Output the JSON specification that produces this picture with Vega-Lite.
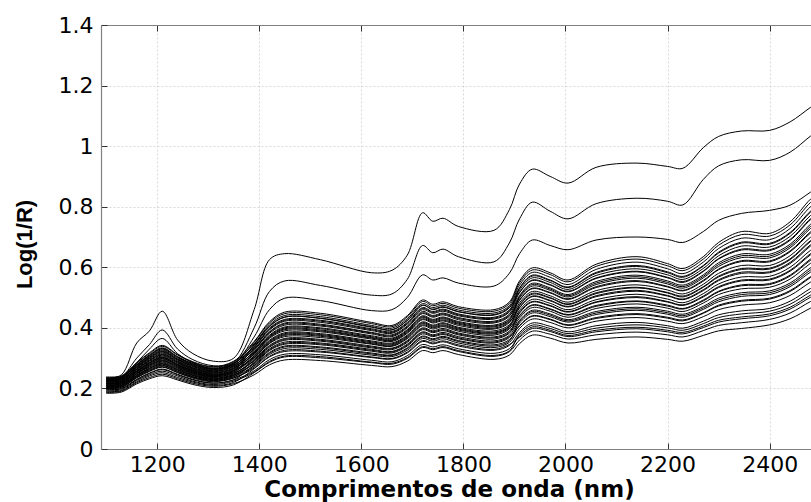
{
"$schema":"https://vega.github.io/schema/vega-lite/v6.json",
"width":710,"height":424,
"autosize":{"type":"none"},
"padding":{"left":101,"top":25,"right":0,"bottom":53},
"background":"white",
"config":{"view":{"stroke":null},"axis":{"domainColor":"#808080","domainWidth":1.2,"tickColor":"#333333","tickSize":-6,"tickWidth":1,"gridColor":"#cfcfcf","gridDash":[2,2],"gridWidth":0.8,"labelFont":"DejaVu Sans","labelFontSize":22,"labelColor":"#000000","titleColor":"#000000","labelOverlap":false,"labelFlush":false}},
"data":{"values":[
{"s":1,"w":1100,"v":0.232},{"s":1,"w":1130,"v":0.245},{"s":1,"w":1160,"v":0.35},{"s":1,"w":1185,"v":0.39},{"s":1,"w":1210,"v":0.455},{"s":1,"w":1240,"v":0.36},{"s":1,"w":1270,"v":0.315},{"s":1,"w":1310,"v":0.29},{"s":1,"w":1350,"v":0.30},{"s":1,"w":1390,"v":0.46},{"s":1,"w":1420,"v":0.625},{"s":1,"w":1450,"v":0.645},{"s":1,"w":1520,"v":0.625},{"s":1,"w":1620,"v":0.582},{"s":1,"w":1660,"v":0.59},{"s":1,"w":1690,"v":0.64},{"s":1,"w":1720,"v":0.78},{"s":1,"w":1740,"v":0.752},{"s":1,"w":1760,"v":0.762},{"s":1,"w":1790,"v":0.735},{"s":1,"w":1860,"v":0.722},{"s":1,"w":1890,"v":0.79},{"s":1,"w":1910,"v":0.875},{"s":1,"w":1935,"v":0.924},{"s":1,"w":1970,"v":0.9},{"s":1,"w":2005,"v":0.878},{"s":1,"w":2060,"v":0.93},{"s":1,"w":2140,"v":0.944},{"s":1,"w":2200,"v":0.933},{"s":1,"w":2230,"v":0.927},{"s":1,"w":2270,"v":0.995},{"s":1,"w":2300,"v":1.032},{"s":1,"w":2345,"v":1.05},{"s":1,"w":2400,"v":1.052},{"s":1,"w":2440,"v":1.08},{"s":1,"w":2480,"v":1.128},{"s":1,"w":2500,"v":1.15},
{"s":2,"w":1100,"v":0.228},{"s":2,"w":1130,"v":0.238},{"s":2,"w":1160,"v":0.30},{"s":2,"w":1185,"v":0.345},{"s":2,"w":1210,"v":0.393},{"s":2,"w":1240,"v":0.33},{"s":2,"w":1270,"v":0.295},{"s":2,"w":1310,"v":0.275},{"s":2,"w":1350,"v":0.285},{"s":2,"w":1390,"v":0.40},{"s":2,"w":1420,"v":0.52},{"s":2,"w":1450,"v":0.555},{"s":2,"w":1520,"v":0.54},{"s":2,"w":1620,"v":0.508},{"s":2,"w":1660,"v":0.512},{"s":2,"w":1690,"v":0.56},{"s":2,"w":1720,"v":0.672},{"s":2,"w":1740,"v":0.648},{"s":2,"w":1760,"v":0.66},{"s":2,"w":1790,"v":0.635},{"s":2,"w":1860,"v":0.618},{"s":2,"w":1890,"v":0.68},{"s":2,"w":1910,"v":0.76},{"s":2,"w":1935,"v":0.815},{"s":2,"w":1970,"v":0.785},{"s":2,"w":2005,"v":0.76},{"s":2,"w":2060,"v":0.81},{"s":2,"w":2140,"v":0.828},{"s":2,"w":2200,"v":0.818},{"s":2,"w":2230,"v":0.806},{"s":2,"w":2270,"v":0.89},{"s":2,"w":2300,"v":0.935},{"s":2,"w":2345,"v":0.955},{"s":2,"w":2400,"v":0.953},{"s":2,"w":2440,"v":0.98},{"s":2,"w":2480,"v":1.033},{"s":2,"w":2500,"v":1.055},
{"s":3,"w":1100,"v":0.225},{"s":3,"w":1130,"v":0.235},{"s":3,"w":1160,"v":0.285},{"s":3,"w":1185,"v":0.33},{"s":3,"w":1210,"v":0.365},{"s":3,"w":1240,"v":0.315},{"s":3,"w":1270,"v":0.285},{"s":3,"w":1310,"v":0.265},{"s":3,"w":1350,"v":0.28},{"s":3,"w":1390,"v":0.37},{"s":3,"w":1420,"v":0.46},{"s":3,"w":1450,"v":0.498},{"s":3,"w":1520,"v":0.49},{"s":3,"w":1620,"v":0.457},{"s":3,"w":1660,"v":0.46},{"s":3,"w":1690,"v":0.50},{"s":3,"w":1720,"v":0.575},{"s":3,"w":1740,"v":0.558},{"s":3,"w":1760,"v":0.565},{"s":3,"w":1790,"v":0.548},{"s":3,"w":1860,"v":0.538},{"s":3,"w":1890,"v":0.58},{"s":3,"w":1910,"v":0.645},{"s":3,"w":1935,"v":0.69},{"s":3,"w":1970,"v":0.672},{"s":3,"w":2005,"v":0.658},{"s":3,"w":2060,"v":0.69},{"s":3,"w":2140,"v":0.70},{"s":3,"w":2200,"v":0.692},{"s":3,"w":2230,"v":0.682},{"s":3,"w":2270,"v":0.718},{"s":3,"w":2300,"v":0.755},{"s":3,"w":2345,"v":0.778},{"s":3,"w":2400,"v":0.788},{"s":3,"w":2440,"v":0.805},{"s":3,"w":2480,"v":0.848},{"s":3,"w":2500,"v":0.87},
{"s":4,"w":1100,"v":0.187},{"s":4,"w":1130,"v":0.191},{"s":4,"w":1160,"v":0.219},{"s":4,"w":1185,"v":0.236},{"s":4,"w":1210,"v":0.247},{"s":4,"w":1240,"v":0.232},{"s":4,"w":1270,"v":0.217},{"s":4,"w":1310,"v":0.207},{"s":4,"w":1350,"v":0.216},{"s":4,"w":1390,"v":0.245},{"s":4,"w":1420,"v":0.278},{"s":4,"w":1450,"v":0.294},{"s":4,"w":1520,"v":0.292},{"s":4,"w":1620,"v":0.276},{"s":4,"w":1660,"v":0.272},{"s":4,"w":1690,"v":0.290},{"s":4,"w":1720,"v":0.325},{"s":4,"w":1740,"v":0.318},{"s":4,"w":1760,"v":0.325},{"s":4,"w":1790,"v":0.312},{"s":4,"w":1860,"v":0.296},{"s":4,"w":1890,"v":0.310},{"s":4,"w":1910,"v":0.348},{"s":4,"w":1935,"v":0.376},{"s":4,"w":1970,"v":0.366},{"s":4,"w":2005,"v":0.350},{"s":4,"w":2060,"v":0.362},{"s":4,"w":2140,"v":0.370},{"s":4,"w":2200,"v":0.362},{"s":4,"w":2230,"v":0.356},{"s":4,"w":2270,"v":0.375},{"s":4,"w":2300,"v":0.390},{"s":4,"w":2345,"v":0.398},{"s":4,"w":2400,"v":0.410},{"s":4,"w":2440,"v":0.430},{"s":4,"w":2480,"v":0.465},{"s":4,"w":2500,"v":0.480},
{"s":5,"w":1100,"v":0.184},{"s":5,"w":1130,"v":0.188},{"s":5,"w":1160,"v":0.215},{"s":5,"w":1185,"v":0.232},{"s":5,"w":1210,"v":0.242},{"s":5,"w":1240,"v":0.228},{"s":5,"w":1270,"v":0.213},{"s":5,"w":1310,"v":0.203},{"s":5,"w":1350,"v":0.212},{"s":5,"w":1390,"v":0.252},{"s":5,"w":1420,"v":0.286},{"s":5,"w":1450,"v":0.304},{"s":5,"w":1520,"v":0.301},{"s":5,"w":1620,"v":0.285},{"s":5,"w":1660,"v":0.280},{"s":5,"w":1690,"v":0.299},{"s":5,"w":1720,"v":0.335},{"s":5,"w":1740,"v":0.328},{"s":5,"w":1760,"v":0.335},{"s":5,"w":1790,"v":0.322},{"s":5,"w":1860,"v":0.306},{"s":5,"w":1890,"v":0.321},{"s":5,"w":1910,"v":0.360},{"s":5,"w":1935,"v":0.389},{"s":5,"w":1970,"v":0.379},{"s":5,"w":2005,"v":0.363},{"s":5,"w":2060,"v":0.377},{"s":5,"w":2140,"v":0.386},{"s":5,"w":2200,"v":0.377},{"s":5,"w":2230,"v":0.370},{"s":5,"w":2270,"v":0.391},{"s":5,"w":2300,"v":0.408},{"s":5,"w":2345,"v":0.417},{"s":5,"w":2400,"v":0.428},{"s":5,"w":2440,"v":0.449},{"s":5,"w":2480,"v":0.487},{"s":5,"w":2500,"v":0.502},
{"s":6,"w":1100,"v":0.195},{"s":6,"w":1130,"v":0.199},{"s":6,"w":1160,"v":0.229},{"s":6,"w":1185,"v":0.249},{"s":6,"w":1210,"v":0.262},{"s":6,"w":1240,"v":0.245},{"s":6,"w":1270,"v":0.228},{"s":6,"w":1310,"v":0.217},{"s":6,"w":1350,"v":0.228},{"s":6,"w":1390,"v":0.258},{"s":6,"w":1420,"v":0.295},{"s":6,"w":1450,"v":0.313},{"s":6,"w":1520,"v":0.311},{"s":6,"w":1620,"v":0.293},{"s":6,"w":1660,"v":0.288},{"s":6,"w":1690,"v":0.308},{"s":6,"w":1720,"v":0.345},{"s":6,"w":1740,"v":0.337},{"s":6,"w":1760,"v":0.344},{"s":6,"w":1790,"v":0.331},{"s":6,"w":1860,"v":0.316},{"s":6,"w":1890,"v":0.331},{"s":6,"w":1910,"v":0.373},{"s":6,"w":1935,"v":0.403},{"s":6,"w":1970,"v":0.392},{"s":6,"w":2005,"v":0.375},{"s":6,"w":2060,"v":0.392},{"s":6,"w":2140,"v":0.402},{"s":6,"w":2200,"v":0.392},{"s":6,"w":2230,"v":0.385},{"s":6,"w":2270,"v":0.406},{"s":6,"w":2300,"v":0.425},{"s":6,"w":2345,"v":0.436},{"s":6,"w":2400,"v":0.446},{"s":6,"w":2440,"v":0.468},{"s":6,"w":2480,"v":0.508},{"s":6,"w":2500,"v":0.524},
{"s":7,"w":1100,"v":0.189},{"s":7,"w":1130,"v":0.193},{"s":7,"w":1160,"v":0.222},{"s":7,"w":1185,"v":0.241},{"s":7,"w":1210,"v":0.252},{"s":7,"w":1240,"v":0.236},{"s":7,"w":1270,"v":0.221},{"s":7,"w":1310,"v":0.210},{"s":7,"w":1350,"v":0.220},{"s":7,"w":1390,"v":0.265},{"s":7,"w":1420,"v":0.304},{"s":7,"w":1450,"v":0.322},{"s":7,"w":1520,"v":0.320},{"s":7,"w":1620,"v":0.302},{"s":7,"w":1660,"v":0.297},{"s":7,"w":1690,"v":0.317},{"s":7,"w":1720,"v":0.355},{"s":7,"w":1740,"v":0.347},{"s":7,"w":1760,"v":0.354},{"s":7,"w":1790,"v":0.340},{"s":7,"w":1860,"v":0.326},{"s":7,"w":1890,"v":0.342},{"s":7,"w":1910,"v":0.385},{"s":7,"w":1935,"v":0.416},{"s":7,"w":1970,"v":0.405},{"s":7,"w":2005,"v":0.387},{"s":7,"w":2060,"v":0.407},{"s":7,"w":2140,"v":0.418},{"s":7,"w":2200,"v":0.407},{"s":7,"w":2230,"v":0.399},{"s":7,"w":2270,"v":0.422},{"s":7,"w":2300,"v":0.443},{"s":7,"w":2345,"v":0.456},{"s":7,"w":2400,"v":0.464},{"s":7,"w":2440,"v":0.488},{"s":7,"w":2480,"v":0.530},{"s":7,"w":2500,"v":0.547},
{"s":8,"w":1100,"v":0.200},{"s":8,"w":1130,"v":0.204},{"s":8,"w":1160,"v":0.236},{"s":8,"w":1185,"v":0.258},{"s":8,"w":1210,"v":0.272},{"s":8,"w":1240,"v":0.253},{"s":8,"w":1270,"v":0.236},{"s":8,"w":1310,"v":0.224},{"s":8,"w":1350,"v":0.235},{"s":8,"w":1390,"v":0.271},{"s":8,"w":1420,"v":0.312},{"s":8,"w":1450,"v":0.332},{"s":8,"w":1520,"v":0.329},{"s":8,"w":1620,"v":0.310},{"s":8,"w":1660,"v":0.305},{"s":8,"w":1690,"v":0.326},{"s":8,"w":1720,"v":0.365},{"s":8,"w":1740,"v":0.356},{"s":8,"w":1760,"v":0.364},{"s":8,"w":1790,"v":0.350},{"s":8,"w":1860,"v":0.335},{"s":8,"w":1890,"v":0.352},{"s":8,"w":1910,"v":0.398},{"s":8,"w":1935,"v":0.429},{"s":8,"w":1970,"v":0.418},{"s":8,"w":2005,"v":0.400},{"s":8,"w":2060,"v":0.422},{"s":8,"w":2140,"v":0.434},{"s":8,"w":2200,"v":0.422},{"s":8,"w":2230,"v":0.414},{"s":8,"w":2270,"v":0.437},{"s":8,"w":2300,"v":0.460},{"s":8,"w":2345,"v":0.475},{"s":8,"w":2400,"v":0.483},{"s":8,"w":2440,"v":0.507},{"s":8,"w":2480,"v":0.551},{"s":8,"w":2500,"v":0.569},
{"s":9,"w":1100,"v":0.196},{"s":9,"w":1130,"v":0.200},{"s":9,"w":1160,"v":0.230},{"s":9,"w":1185,"v":0.251},{"s":9,"w":1210,"v":0.264},{"s":9,"w":1240,"v":0.247},{"s":9,"w":1270,"v":0.230},{"s":9,"w":1310,"v":0.218},{"s":9,"w":1350,"v":0.229},{"s":9,"w":1390,"v":0.277},{"s":9,"w":1420,"v":0.319},{"s":9,"w":1450,"v":0.340},{"s":9,"w":1520,"v":0.337},{"s":9,"w":1620,"v":0.317},{"s":9,"w":1660,"v":0.311},{"s":9,"w":1690,"v":0.334},{"s":9,"w":1720,"v":0.373},{"s":9,"w":1740,"v":0.364},{"s":9,"w":1760,"v":0.372},{"s":9,"w":1790,"v":0.358},{"s":9,"w":1860,"v":0.344},{"s":9,"w":1890,"v":0.361},{"s":9,"w":1910,"v":0.408},{"s":9,"w":1935,"v":0.440},{"s":9,"w":1970,"v":0.429},{"s":9,"w":2005,"v":0.410},{"s":9,"w":2060,"v":0.434},{"s":9,"w":2140,"v":0.447},{"s":9,"w":2200,"v":0.435},{"s":9,"w":2230,"v":0.426},{"s":9,"w":2270,"v":0.450},{"s":9,"w":2300,"v":0.475},{"s":9,"w":2345,"v":0.491},{"s":9,"w":2400,"v":0.498},{"s":9,"w":2440,"v":0.523},{"s":9,"w":2480,"v":0.569},{"s":9,"w":2500,"v":0.587},
{"s":10,"w":1100,"v":0.206},{"s":10,"w":1130,"v":0.210},{"s":10,"w":1160,"v":0.243},{"s":10,"w":1185,"v":0.266},{"s":10,"w":1210,"v":0.282},{"s":10,"w":1240,"v":0.262},{"s":10,"w":1270,"v":0.243},{"s":10,"w":1310,"v":0.231},{"s":10,"w":1350,"v":0.243},{"s":10,"w":1390,"v":0.281},{"s":10,"w":1420,"v":0.325},{"s":10,"w":1450,"v":0.346},{"s":10,"w":1520,"v":0.344},{"s":10,"w":1620,"v":0.323},{"s":10,"w":1660,"v":0.317},{"s":10,"w":1690,"v":0.340},{"s":10,"w":1720,"v":0.380},{"s":10,"w":1740,"v":0.371},{"s":10,"w":1760,"v":0.378},{"s":10,"w":1790,"v":0.364},{"s":10,"w":1860,"v":0.350},{"s":10,"w":1890,"v":0.368},{"s":10,"w":1910,"v":0.416},{"s":10,"w":1935,"v":0.449},{"s":10,"w":1970,"v":0.437},{"s":10,"w":2005,"v":0.419},{"s":10,"w":2060,"v":0.444},{"s":10,"w":2140,"v":0.458},{"s":10,"w":2200,"v":0.445},{"s":10,"w":2230,"v":0.435},{"s":10,"w":2270,"v":0.461},{"s":10,"w":2300,"v":0.486},{"s":10,"w":2345,"v":0.504},{"s":10,"w":2400,"v":0.510},{"s":10,"w":2440,"v":0.536},{"s":10,"w":2480,"v":0.584},{"s":10,"w":2500,"v":0.602},
{"s":11,"w":1100,"v":0.202},{"s":11,"w":1130,"v":0.206},{"s":11,"w":1160,"v":0.238},{"s":11,"w":1185,"v":0.260},{"s":11,"w":1210,"v":0.275},{"s":11,"w":1240,"v":0.256},{"s":11,"w":1270,"v":0.238},{"s":11,"w":1310,"v":0.226},{"s":11,"w":1350,"v":0.238},{"s":11,"w":1390,"v":0.286},{"s":11,"w":1420,"v":0.331},{"s":11,"w":1450,"v":0.353},{"s":11,"w":1520,"v":0.350},{"s":11,"w":1620,"v":0.329},{"s":11,"w":1660,"v":0.322},{"s":11,"w":1690,"v":0.346},{"s":11,"w":1720,"v":0.387},{"s":11,"w":1740,"v":0.377},{"s":11,"w":1760,"v":0.385},{"s":11,"w":1790,"v":0.371},{"s":11,"w":1860,"v":0.357},{"s":11,"w":1890,"v":0.375},{"s":11,"w":1910,"v":0.425},{"s":11,"w":1935,"v":0.458},{"s":11,"w":1970,"v":0.446},{"s":11,"w":2005,"v":0.427},{"s":11,"w":2060,"v":0.454},{"s":11,"w":2140,"v":0.468},{"s":11,"w":2200,"v":0.455},{"s":11,"w":2230,"v":0.445},{"s":11,"w":2270,"v":0.471},{"s":11,"w":2300,"v":0.498},{"s":11,"w":2345,"v":0.516},{"s":11,"w":2400,"v":0.522},{"s":11,"w":2440,"v":0.548},{"s":11,"w":2480,"v":0.598},{"s":11,"w":2500,"v":0.617},
{"s":12,"w":1100,"v":0.211},{"s":12,"w":1130,"v":0.215},{"s":12,"w":1160,"v":0.250},{"s":12,"w":1185,"v":0.275},{"s":12,"w":1210,"v":0.292},{"s":12,"w":1240,"v":0.270},{"s":12,"w":1270,"v":0.251},{"s":12,"w":1310,"v":0.238},{"s":12,"w":1350,"v":0.251},{"s":12,"w":1390,"v":0.290},{"s":12,"w":1420,"v":0.336},{"s":12,"w":1450,"v":0.359},{"s":12,"w":1520,"v":0.356},{"s":12,"w":1620,"v":0.334},{"s":12,"w":1660,"v":0.328},{"s":12,"w":1690,"v":0.352},{"s":12,"w":1720,"v":0.394},{"s":12,"w":1740,"v":0.384},{"s":12,"w":1760,"v":0.391},{"s":12,"w":1790,"v":0.377},{"s":12,"w":1860,"v":0.363},{"s":12,"w":1890,"v":0.382},{"s":12,"w":1910,"v":0.433},{"s":12,"w":1935,"v":0.467},{"s":12,"w":1970,"v":0.455},{"s":12,"w":2005,"v":0.435},{"s":12,"w":2060,"v":0.464},{"s":12,"w":2140,"v":0.479},{"s":12,"w":2200,"v":0.465},{"s":12,"w":2230,"v":0.454},{"s":12,"w":2270,"v":0.482},{"s":12,"w":2300,"v":0.510},{"s":12,"w":2345,"v":0.529},{"s":12,"w":2400,"v":0.534},{"s":12,"w":2440,"v":0.561},{"s":12,"w":2480,"v":0.613},{"s":12,"w":2500,"v":0.632},
{"s":13,"w":1100,"v":0.205},{"s":13,"w":1130,"v":0.209},{"s":13,"w":1160,"v":0.242},{"s":13,"w":1185,"v":0.265},{"s":13,"w":1210,"v":0.280},{"s":13,"w":1240,"v":0.260},{"s":13,"w":1270,"v":0.242},{"s":13,"w":1310,"v":0.229},{"s":13,"w":1350,"v":0.242},{"s":13,"w":1390,"v":0.295},{"s":13,"w":1420,"v":0.342},{"s":13,"w":1450,"v":0.365},{"s":13,"w":1520,"v":0.362},{"s":13,"w":1620,"v":0.340},{"s":13,"w":1660,"v":0.333},{"s":13,"w":1690,"v":0.358},{"s":13,"w":1720,"v":0.400},{"s":13,"w":1740,"v":0.390},{"s":13,"w":1760,"v":0.398},{"s":13,"w":1790,"v":0.383},{"s":13,"w":1860,"v":0.370},{"s":13,"w":1890,"v":0.389},{"s":13,"w":1910,"v":0.441},{"s":13,"w":1935,"v":0.476},{"s":13,"w":1970,"v":0.463},{"s":13,"w":2005,"v":0.444},{"s":13,"w":2060,"v":0.474},{"s":13,"w":2140,"v":0.489},{"s":13,"w":2200,"v":0.475},{"s":13,"w":2230,"v":0.464},{"s":13,"w":2270,"v":0.492},{"s":13,"w":2300,"v":0.521},{"s":13,"w":2345,"v":0.542},{"s":13,"w":2400,"v":0.546},{"s":13,"w":2440,"v":0.574},{"s":13,"w":2480,"v":0.627},{"s":13,"w":2500,"v":0.647},
{"s":14,"w":1100,"v":0.208},{"s":14,"w":1130,"v":0.212},{"s":14,"w":1160,"v":0.247},{"s":14,"w":1185,"v":0.271},{"s":14,"w":1210,"v":0.287},{"s":14,"w":1240,"v":0.266},{"s":14,"w":1270,"v":0.247},{"s":14,"w":1310,"v":0.234},{"s":14,"w":1350,"v":0.247},{"s":14,"w":1390,"v":0.299},{"s":14,"w":1420,"v":0.348},{"s":14,"w":1450,"v":0.371},{"s":14,"w":1520,"v":0.368},{"s":14,"w":1620,"v":0.346},{"s":14,"w":1660,"v":0.339},{"s":14,"w":1690,"v":0.364},{"s":14,"w":1720,"v":0.407},{"s":14,"w":1740,"v":0.396},{"s":14,"w":1760,"v":0.404},{"s":14,"w":1790,"v":0.389},{"s":14,"w":1860,"v":0.376},{"s":14,"w":1890,"v":0.396},{"s":14,"w":1910,"v":0.449},{"s":14,"w":1935,"v":0.485},{"s":14,"w":1970,"v":0.472},{"s":14,"w":2005,"v":0.452},{"s":14,"w":2060,"v":0.484},{"s":14,"w":2140,"v":0.500},{"s":14,"w":2200,"v":0.485},{"s":14,"w":2230,"v":0.474},{"s":14,"w":2270,"v":0.502},{"s":14,"w":2300,"v":0.533},{"s":14,"w":2345,"v":0.555},{"s":14,"w":2400,"v":0.558},{"s":14,"w":2440,"v":0.587},{"s":14,"w":2480,"v":0.641},{"s":14,"w":2500,"v":0.661},
{"s":15,"w":1100,"v":0.216},{"s":15,"w":1130,"v":0.220},{"s":15,"w":1160,"v":0.257},{"s":15,"w":1185,"v":0.284},{"s":15,"w":1210,"v":0.302},{"s":15,"w":1240,"v":0.278},{"s":15,"w":1270,"v":0.258},{"s":15,"w":1310,"v":0.244},{"s":15,"w":1350,"v":0.259},{"s":15,"w":1390,"v":0.303},{"s":15,"w":1420,"v":0.353},{"s":15,"w":1450,"v":0.378},{"s":15,"w":1520,"v":0.375},{"s":15,"w":1620,"v":0.351},{"s":15,"w":1660,"v":0.344},{"s":15,"w":1690,"v":0.370},{"s":15,"w":1720,"v":0.414},{"s":15,"w":1740,"v":0.403},{"s":15,"w":1760,"v":0.410},{"s":15,"w":1790,"v":0.396},{"s":15,"w":1860,"v":0.383},{"s":15,"w":1890,"v":0.403},{"s":15,"w":1910,"v":0.458},{"s":15,"w":1935,"v":0.494},{"s":15,"w":1970,"v":0.481},{"s":15,"w":2005,"v":0.460},{"s":15,"w":2060,"v":0.493},{"s":15,"w":2140,"v":0.511},{"s":15,"w":2200,"v":0.495},{"s":15,"w":2230,"v":0.483},{"s":15,"w":2270,"v":0.513},{"s":15,"w":2300,"v":0.545},{"s":15,"w":2345,"v":0.568},{"s":15,"w":2400,"v":0.570},{"s":15,"w":2440,"v":0.600},{"s":15,"w":2480,"v":0.656},{"s":15,"w":2500,"v":0.676},
{"s":16,"w":1100,"v":0.212},{"s":16,"w":1130,"v":0.216},{"s":16,"w":1160,"v":0.251},{"s":16,"w":1185,"v":0.277},{"s":16,"w":1210,"v":0.294},{"s":16,"w":1240,"v":0.272},{"s":16,"w":1270,"v":0.252},{"s":16,"w":1310,"v":0.239},{"s":16,"w":1350,"v":0.253},{"s":16,"w":1390,"v":0.308},{"s":16,"w":1420,"v":0.359},{"s":16,"w":1450,"v":0.384},{"s":16,"w":1520,"v":0.381},{"s":16,"w":1620,"v":0.357},{"s":16,"w":1660,"v":0.350},{"s":16,"w":1690,"v":0.376},{"s":16,"w":1720,"v":0.420},{"s":16,"w":1740,"v":0.409},{"s":16,"w":1760,"v":0.417},{"s":16,"w":1790,"v":0.402},{"s":16,"w":1860,"v":0.390},{"s":16,"w":1890,"v":0.410},{"s":16,"w":1910,"v":0.466},{"s":16,"w":1935,"v":0.503},{"s":16,"w":1970,"v":0.489},{"s":16,"w":2005,"v":0.469},{"s":16,"w":2060,"v":0.503},{"s":16,"w":2140,"v":0.521},{"s":16,"w":2200,"v":0.505},{"s":16,"w":2230,"v":0.493},{"s":16,"w":2270,"v":0.523},{"s":16,"w":2300,"v":0.556},{"s":16,"w":2345,"v":0.580},{"s":16,"w":2400,"v":0.582},{"s":16,"w":2440,"v":0.612},{"s":16,"w":2480,"v":0.670},{"s":16,"w":2500,"v":0.691},
{"s":17,"w":1100,"v":0.221},{"s":17,"w":1130,"v":0.225},{"s":17,"w":1160,"v":0.263},{"s":17,"w":1185,"v":0.291},{"s":17,"w":1210,"v":0.310},{"s":17,"w":1240,"v":0.285},{"s":17,"w":1270,"v":0.264},{"s":17,"w":1310,"v":0.250},{"s":17,"w":1350,"v":0.265},{"s":17,"w":1390,"v":0.312},{"s":17,"w":1420,"v":0.365},{"s":17,"w":1450,"v":0.390},{"s":17,"w":1520,"v":0.387},{"s":17,"w":1620,"v":0.363},{"s":17,"w":1660,"v":0.355},{"s":17,"w":1690,"v":0.382},{"s":17,"w":1720,"v":0.427},{"s":17,"w":1740,"v":0.416},{"s":17,"w":1760,"v":0.423},{"s":17,"w":1790,"v":0.408},{"s":17,"w":1860,"v":0.396},{"s":17,"w":1890,"v":0.417},{"s":17,"w":1910,"v":0.474},{"s":17,"w":1935,"v":0.511},{"s":17,"w":1970,"v":0.498},{"s":17,"w":2005,"v":0.477},{"s":17,"w":2060,"v":0.513},{"s":17,"w":2140,"v":0.532},{"s":17,"w":2200,"v":0.515},{"s":17,"w":2230,"v":0.502},{"s":17,"w":2270,"v":0.534},{"s":17,"w":2300,"v":0.568},{"s":17,"w":2345,"v":0.593},{"s":17,"w":2400,"v":0.594},{"s":17,"w":2440,"v":0.625},{"s":17,"w":2480,"v":0.685},{"s":17,"w":2500,"v":0.706},
{"s":18,"w":1100,"v":0.215},{"s":18,"w":1130,"v":0.219},{"s":18,"w":1160,"v":0.255},{"s":18,"w":1185,"v":0.281},{"s":18,"w":1210,"v":0.299},{"s":18,"w":1240,"v":0.276},{"s":18,"w":1270,"v":0.256},{"s":18,"w":1310,"v":0.242},{"s":18,"w":1350,"v":0.257},{"s":18,"w":1390,"v":0.317},{"s":18,"w":1420,"v":0.370},{"s":18,"w":1450,"v":0.397},{"s":18,"w":1520,"v":0.393},{"s":18,"w":1620,"v":0.368},{"s":18,"w":1660,"v":0.360},{"s":18,"w":1690,"v":0.388},{"s":18,"w":1720,"v":0.434},{"s":18,"w":1740,"v":0.422},{"s":18,"w":1760,"v":0.430},{"s":18,"w":1790,"v":0.415},{"s":18,"w":1860,"v":0.403},{"s":18,"w":1890,"v":0.424},{"s":18,"w":1910,"v":0.483},{"s":18,"w":1935,"v":0.520},{"s":18,"w":1970,"v":0.506},{"s":18,"w":2005,"v":0.485},{"s":18,"w":2060,"v":0.523},{"s":18,"w":2140,"v":0.542},{"s":18,"w":2200,"v":0.525},{"s":18,"w":2230,"v":0.512},{"s":18,"w":2270,"v":0.544},{"s":18,"w":2300,"v":0.580},{"s":18,"w":2345,"v":0.606},{"s":18,"w":2400,"v":0.606},{"s":18,"w":2440,"v":0.638},{"s":18,"w":2480,"v":0.699},{"s":18,"w":2500,"v":0.721},
{"s":19,"w":1100,"v":0.225},{"s":19,"w":1130,"v":0.229},{"s":19,"w":1160,"v":0.268},{"s":19,"w":1185,"v":0.297},{"s":19,"w":1210,"v":0.317},{"s":19,"w":1240,"v":0.291},{"s":19,"w":1270,"v":0.269},{"s":19,"w":1310,"v":0.255},{"s":19,"w":1350,"v":0.271},{"s":19,"w":1390,"v":0.321},{"s":19,"w":1420,"v":0.376},{"s":19,"w":1450,"v":0.403},{"s":19,"w":1520,"v":0.400},{"s":19,"w":1620,"v":0.374},{"s":19,"w":1660,"v":0.366},{"s":19,"w":1690,"v":0.394},{"s":19,"w":1720,"v":0.440},{"s":19,"w":1740,"v":0.428},{"s":19,"w":1760,"v":0.436},{"s":19,"w":1790,"v":0.421},{"s":19,"w":1860,"v":0.409},{"s":19,"w":1890,"v":0.431},{"s":19,"w":1910,"v":0.491},{"s":19,"w":1935,"v":0.529},{"s":19,"w":1970,"v":0.515},{"s":19,"w":2005,"v":0.494},{"s":19,"w":2060,"v":0.533},{"s":19,"w":2140,"v":0.553},{"s":19,"w":2200,"v":0.535},{"s":19,"w":2230,"v":0.522},{"s":19,"w":2270,"v":0.554},{"s":19,"w":2300,"v":0.592},{"s":19,"w":2345,"v":0.619},{"s":19,"w":2400,"v":0.618},{"s":19,"w":2440,"v":0.651},{"s":19,"w":2480,"v":0.713},{"s":19,"w":2500,"v":0.735},
{"s":20,"w":1100,"v":0.219},{"s":20,"w":1130,"v":0.223},{"s":20,"w":1160,"v":0.261},{"s":20,"w":1185,"v":0.288},{"s":20,"w":1210,"v":0.307},{"s":20,"w":1240,"v":0.283},{"s":20,"w":1270,"v":0.262},{"s":20,"w":1310,"v":0.248},{"s":20,"w":1350,"v":0.263},{"s":20,"w":1390,"v":0.325},{"s":20,"w":1420,"v":0.382},{"s":20,"w":1450,"v":0.409},{"s":20,"w":1520,"v":0.406},{"s":20,"w":1620,"v":0.380},{"s":20,"w":1660,"v":0.371},{"s":20,"w":1690,"v":0.400},{"s":20,"w":1720,"v":0.447},{"s":20,"w":1740,"v":0.435},{"s":20,"w":1760,"v":0.443},{"s":20,"w":1790,"v":0.427},{"s":20,"w":1860,"v":0.416},{"s":20,"w":1890,"v":0.438},{"s":20,"w":1910,"v":0.499},{"s":20,"w":1935,"v":0.538},{"s":20,"w":1970,"v":0.524},{"s":20,"w":2005,"v":0.502},{"s":20,"w":2060,"v":0.543},{"s":20,"w":2140,"v":0.564},{"s":20,"w":2200,"v":0.545},{"s":20,"w":2230,"v":0.531},{"s":20,"w":2270,"v":0.565},{"s":20,"w":2300,"v":0.603},{"s":20,"w":2345,"v":0.632},{"s":20,"w":2400,"v":0.631},{"s":20,"w":2440,"v":0.664},{"s":20,"w":2480,"v":0.728},{"s":20,"w":2500,"v":0.750},
{"s":21,"w":1100,"v":0.228},{"s":21,"w":1130,"v":0.232},{"s":21,"w":1160,"v":0.272},{"s":21,"w":1185,"v":0.303},{"s":21,"w":1210,"v":0.324},{"s":21,"w":1240,"v":0.297},{"s":21,"w":1270,"v":0.275},{"s":21,"w":1310,"v":0.260},{"s":21,"w":1350,"v":0.276},{"s":21,"w":1390,"v":0.330},{"s":21,"w":1420,"v":0.387},{"s":21,"w":1450,"v":0.416},{"s":21,"w":1520,"v":0.412},{"s":21,"w":1620,"v":0.385},{"s":21,"w":1660,"v":0.377},{"s":21,"w":1690,"v":0.406},{"s":21,"w":1720,"v":0.454},{"s":21,"w":1740,"v":0.441},{"s":21,"w":1760,"v":0.449},{"s":21,"w":1790,"v":0.434},{"s":21,"w":1860,"v":0.422},{"s":21,"w":1890,"v":0.445},{"s":21,"w":1910,"v":0.507},{"s":21,"w":1935,"v":0.547},{"s":21,"w":1970,"v":0.532},{"s":21,"w":2005,"v":0.510},{"s":21,"w":2060,"v":0.553},{"s":21,"w":2140,"v":0.574},{"s":21,"w":2200,"v":0.555},{"s":21,"w":2230,"v":0.541},{"s":21,"w":2270,"v":0.575},{"s":21,"w":2300,"v":0.615},{"s":21,"w":2345,"v":0.644},{"s":21,"w":2400,"v":0.643},{"s":21,"w":2440,"v":0.676},{"s":21,"w":2480,"v":0.742},{"s":21,"w":2500,"v":0.765},
{"s":22,"w":1100,"v":0.223},{"s":22,"w":1130,"v":0.227},{"s":22,"w":1160,"v":0.265},{"s":22,"w":1185,"v":0.294},{"s":22,"w":1210,"v":0.314},{"s":22,"w":1240,"v":0.289},{"s":22,"w":1270,"v":0.267},{"s":22,"w":1310,"v":0.253},{"s":22,"w":1350,"v":0.268},{"s":22,"w":1390,"v":0.334},{"s":22,"w":1420,"v":0.393},{"s":22,"w":1450,"v":0.422},{"s":22,"w":1520,"v":0.418},{"s":22,"w":1620,"v":0.391},{"s":22,"w":1660,"v":0.382},{"s":22,"w":1690,"v":0.412},{"s":22,"w":1720,"v":0.460},{"s":22,"w":1740,"v":0.448},{"s":22,"w":1760,"v":0.455},{"s":22,"w":1790,"v":0.440},{"s":22,"w":1860,"v":0.429},{"s":22,"w":1890,"v":0.452},{"s":22,"w":1910,"v":0.516},{"s":22,"w":1935,"v":0.556},{"s":22,"w":1970,"v":0.541},{"s":22,"w":2005,"v":0.519},{"s":22,"w":2060,"v":0.563},{"s":22,"w":2140,"v":0.585},{"s":22,"w":2200,"v":0.565},{"s":22,"w":2230,"v":0.550},{"s":22,"w":2270,"v":0.586},{"s":22,"w":2300,"v":0.627},{"s":22,"w":2345,"v":0.657},{"s":22,"w":2400,"v":0.655},{"s":22,"w":2440,"v":0.689},{"s":22,"w":2480,"v":0.757},{"s":22,"w":2500,"v":0.780},
{"s":23,"w":1100,"v":0.233},{"s":23,"w":1130,"v":0.237},{"s":23,"w":1160,"v":0.278},{"s":23,"w":1185,"v":0.309},{"s":23,"w":1210,"v":0.332},{"s":23,"w":1240,"v":0.304},{"s":23,"w":1270,"v":0.281},{"s":23,"w":1310,"v":0.265},{"s":23,"w":1350,"v":0.282},{"s":23,"w":1390,"v":0.339},{"s":23,"w":1420,"v":0.399},{"s":23,"w":1450,"v":0.428},{"s":23,"w":1520,"v":0.425},{"s":23,"w":1620,"v":0.397},{"s":23,"w":1660,"v":0.388},{"s":23,"w":1690,"v":0.418},{"s":23,"w":1720,"v":0.467},{"s":23,"w":1740,"v":0.454},{"s":23,"w":1760,"v":0.462},{"s":23,"w":1790,"v":0.446},{"s":23,"w":1860,"v":0.435},{"s":23,"w":1890,"v":0.459},{"s":23,"w":1910,"v":0.524},{"s":23,"w":1935,"v":0.565},{"s":23,"w":1970,"v":0.550},{"s":23,"w":2005,"v":0.527},{"s":23,"w":2060,"v":0.573},{"s":23,"w":2140,"v":0.595},{"s":23,"w":2200,"v":0.575},{"s":23,"w":2230,"v":0.560},{"s":23,"w":2270,"v":0.596},{"s":23,"w":2300,"v":0.638},{"s":23,"w":2345,"v":0.670},{"s":23,"w":2400,"v":0.667},{"s":23,"w":2440,"v":0.702},{"s":23,"w":2480,"v":0.771},{"s":23,"w":2500,"v":0.795},
{"s":24,"w":1100,"v":0.227},{"s":24,"w":1130,"v":0.231},{"s":24,"w":1160,"v":0.271},{"s":24,"w":1185,"v":0.301},{"s":24,"w":1210,"v":0.322},{"s":24,"w":1240,"v":0.295},{"s":24,"w":1270,"v":0.273},{"s":24,"w":1310,"v":0.258},{"s":24,"w":1350,"v":0.274},{"s":24,"w":1390,"v":0.343},{"s":24,"w":1420,"v":0.404},{"s":24,"w":1450,"v":0.435},{"s":24,"w":1520,"v":0.431},{"s":24,"w":1620,"v":0.402},{"s":24,"w":1660,"v":0.393},{"s":24,"w":1690,"v":0.424},{"s":24,"w":1720,"v":0.474},{"s":24,"w":1740,"v":0.460},{"s":24,"w":1760,"v":0.468},{"s":24,"w":1790,"v":0.453},{"s":24,"w":1860,"v":0.442},{"s":24,"w":1890,"v":0.466},{"s":24,"w":1910,"v":0.532},{"s":24,"w":1935,"v":0.574},{"s":24,"w":1970,"v":0.558},{"s":24,"w":2005,"v":0.535},{"s":24,"w":2060,"v":0.583},{"s":24,"w":2140,"v":0.606},{"s":24,"w":2200,"v":0.585},{"s":24,"w":2230,"v":0.570},{"s":24,"w":2270,"v":0.606},{"s":24,"w":2300,"v":0.650},{"s":24,"w":2345,"v":0.683},{"s":24,"w":2400,"v":0.679},{"s":24,"w":2440,"v":0.715},{"s":24,"w":2480,"v":0.785},{"s":24,"w":2500,"v":0.809},
{"s":25,"w":1100,"v":0.236},{"s":25,"w":1130,"v":0.240},{"s":25,"w":1160,"v":0.283},{"s":25,"w":1185,"v":0.315},{"s":25,"w":1210,"v":0.339},{"s":25,"w":1240,"v":0.310},{"s":25,"w":1270,"v":0.286},{"s":25,"w":1310,"v":0.270},{"s":25,"w":1350,"v":0.288},{"s":25,"w":1390,"v":0.347},{"s":25,"w":1420,"v":0.410},{"s":25,"w":1450,"v":0.441},{"s":25,"w":1520,"v":0.437},{"s":25,"w":1620,"v":0.408},{"s":25,"w":1660,"v":0.399},{"s":25,"w":1690,"v":0.430},{"s":25,"w":1720,"v":0.480},{"s":25,"w":1740,"v":0.467},{"s":25,"w":1760,"v":0.475},{"s":25,"w":1790,"v":0.459},{"s":25,"w":1860,"v":0.449},{"s":25,"w":1890,"v":0.473},{"s":25,"w":1910,"v":0.541},{"s":25,"w":1935,"v":0.583},{"s":25,"w":1970,"v":0.567},{"s":25,"w":2005,"v":0.543},{"s":25,"w":2060,"v":0.593},{"s":25,"w":2140,"v":0.617},{"s":25,"w":2200,"v":0.595},{"s":25,"w":2230,"v":0.579},{"s":25,"w":2270,"v":0.617},{"s":25,"w":2300,"v":0.662},{"s":25,"w":2345,"v":0.696},{"s":25,"w":2400,"v":0.691},{"s":25,"w":2440,"v":0.728},{"s":25,"w":2480,"v":0.800},{"s":25,"w":2500,"v":0.824},
{"s":26,"w":1100,"v":0.232},{"s":26,"w":1130,"v":0.236},{"s":26,"w":1160,"v":0.277},{"s":26,"w":1185,"v":0.308},{"s":26,"w":1210,"v":0.330},{"s":26,"w":1240,"v":0.302},{"s":26,"w":1270,"v":0.279},{"s":26,"w":1310,"v":0.264},{"s":26,"w":1350,"v":0.281},{"s":26,"w":1390,"v":0.352},{"s":26,"w":1420,"v":0.416},{"s":26,"w":1450,"v":0.447},{"s":26,"w":1520,"v":0.443},{"s":26,"w":1620,"v":0.414},{"s":26,"w":1660,"v":0.404},{"s":26,"w":1690,"v":0.436},{"s":26,"w":1720,"v":0.487},{"s":26,"w":1740,"v":0.473},{"s":26,"w":1760,"v":0.481},{"s":26,"w":1790,"v":0.465},{"s":26,"w":1860,"v":0.455},{"s":26,"w":1890,"v":0.480},{"s":26,"w":1910,"v":0.549},{"s":26,"w":1935,"v":0.591},{"s":26,"w":1970,"v":0.576},{"s":26,"w":2005,"v":0.552},{"s":26,"w":2060,"v":0.603},{"s":26,"w":2140,"v":0.627},{"s":26,"w":2200,"v":0.605},{"s":26,"w":2230,"v":0.589},{"s":26,"w":2270,"v":0.627},{"s":26,"w":2300,"v":0.673},{"s":26,"w":2345,"v":0.708},{"s":26,"w":2400,"v":0.703},{"s":26,"w":2440,"v":0.740},{"s":26,"w":2480,"v":0.814},{"s":26,"w":2500,"v":0.839},
{"s":27,"w":1100,"v":0.238},{"s":27,"w":1130,"v":0.242},{"s":27,"w":1160,"v":0.285},{"s":27,"w":1185,"v":0.318},{"s":27,"w":1210,"v":0.342},{"s":27,"w":1240,"v":0.312},{"s":27,"w":1270,"v":0.288},{"s":27,"w":1310,"v":0.272},{"s":27,"w":1350,"v":0.290},{"s":27,"w":1390,"v":0.355},{"s":27,"w":1420,"v":0.420},{"s":27,"w":1450,"v":0.452},{"s":27,"w":1520,"v":0.448},{"s":27,"w":1620,"v":0.418},{"s":27,"w":1660,"v":0.408},{"s":27,"w":1690,"v":0.440},{"s":27,"w":1720,"v":0.492},{"s":27,"w":1740,"v":0.478},{"s":27,"w":1760,"v":0.486},{"s":27,"w":1790,"v":0.470},{"s":27,"w":1860,"v":0.460},{"s":27,"w":1890,"v":0.485},{"s":27,"w":1910,"v":0.555},{"s":27,"w":1935,"v":0.598},{"s":27,"w":1970,"v":0.582},{"s":27,"w":2005,"v":0.558},{"s":27,"w":2060,"v":0.610},{"s":27,"w":2140,"v":0.635},{"s":27,"w":2200,"v":0.612},{"s":27,"w":2230,"v":0.596},{"s":27,"w":2270,"v":0.635},{"s":27,"w":2300,"v":0.682},{"s":27,"w":2345,"v":0.718},{"s":27,"w":2400,"v":0.712},{"s":27,"w":2440,"v":0.750},{"s":27,"w":2480,"v":0.825},{"s":27,"w":2500,"v":0.850},
{"s":28,"w":1100,"v":0.192},{"s":28,"w":1130,"v":0.196},{"s":28,"w":1160,"v":0.226},{"s":28,"w":1185,"v":0.245},{"s":28,"w":1210,"v":0.257},{"s":28,"w":1240,"v":0.241},{"s":28,"w":1270,"v":0.224},{"s":28,"w":1310,"v":0.213},{"s":28,"w":1350,"v":0.224},{"s":28,"w":1390,"v":0.254},{"s":28,"w":1420,"v":0.289},{"s":28,"w":1450,"v":0.307},{"s":28,"w":1520,"v":0.305},{"s":28,"w":1620,"v":0.287},{"s":28,"w":1660,"v":0.283},{"s":28,"w":1690,"v":0.302},{"s":28,"w":1720,"v":0.338},{"s":28,"w":1740,"v":0.331},{"s":28,"w":1760,"v":0.338},{"s":28,"w":1790,"v":0.325},{"s":28,"w":1860,"v":0.309},{"s":28,"w":1890,"v":0.324},{"s":28,"w":1910,"v":0.379},{"s":28,"w":1935,"v":0.409},{"s":28,"w":1970,"v":0.398},{"s":28,"w":2005,"v":0.381},{"s":28,"w":2060,"v":0.399},{"s":28,"w":2140,"v":0.410},{"s":28,"w":2200,"v":0.400},{"s":28,"w":2230,"v":0.392},{"s":28,"w":2270,"v":0.414},{"s":28,"w":2300,"v":0.434},{"s":28,"w":2345,"v":0.446},{"s":28,"w":2400,"v":0.455},{"s":28,"w":2440,"v":0.478},{"s":28,"w":2480,"v":0.519},{"s":28,"w":2500,"v":0.536},
{"s":29,"w":1100,"v":0.199},{"s":29,"w":1130,"v":0.203},{"s":29,"w":1160,"v":0.235},{"s":29,"w":1185,"v":0.256},{"s":29,"w":1210,"v":0.270},{"s":29,"w":1240,"v":0.252},{"s":29,"w":1270,"v":0.234},{"s":29,"w":1310,"v":0.222},{"s":29,"w":1350,"v":0.234},{"s":29,"w":1390,"v":0.267},{"s":29,"w":1420,"v":0.306},{"s":29,"w":1450,"v":0.326},{"s":29,"w":1520,"v":0.323},{"s":29,"w":1620,"v":0.304},{"s":29,"w":1660,"v":0.299},{"s":29,"w":1690,"v":0.320},{"s":29,"w":1720,"v":0.358},{"s":29,"w":1740,"v":0.350},{"s":29,"w":1760,"v":0.357},{"s":29,"w":1790,"v":0.344},{"s":29,"w":1860,"v":0.329},{"s":29,"w":1890,"v":0.345},{"s":29,"w":1910,"v":0.369},{"s":29,"w":1935,"v":0.398},{"s":29,"w":1970,"v":0.388},{"s":29,"w":2005,"v":0.371},{"s":29,"w":2060,"v":0.387},{"s":29,"w":2140,"v":0.397},{"s":29,"w":2200,"v":0.387},{"s":29,"w":2230,"v":0.380},{"s":29,"w":2270,"v":0.401},{"s":29,"w":2300,"v":0.419},{"s":29,"w":2345,"v":0.430},{"s":29,"w":2400,"v":0.440},{"s":29,"w":2440,"v":0.462},{"s":29,"w":2480,"v":0.501},{"s":29,"w":2500,"v":0.517},
{"s":30,"w":1100,"v":0.203},{"s":30,"w":1130,"v":0.207},{"s":30,"w":1160,"v":0.240},{"s":30,"w":1185,"v":0.262},{"s":30,"w":1210,"v":0.277},{"s":30,"w":1240,"v":0.257},{"s":30,"w":1270,"v":0.239},{"s":30,"w":1310,"v":0.227},{"s":30,"w":1350,"v":0.239},{"s":30,"w":1390,"v":0.275},{"s":30,"w":1420,"v":0.316},{"s":30,"w":1450,"v":0.337},{"s":30,"w":1520,"v":0.334},{"s":30,"w":1620,"v":0.314},{"s":30,"w":1660,"v":0.309},{"s":30,"w":1690,"v":0.331},{"s":30,"w":1720,"v":0.370},{"s":30,"w":1740,"v":0.361},{"s":30,"w":1760,"v":0.369},{"s":30,"w":1790,"v":0.355},{"s":30,"w":1860,"v":0.340},{"s":30,"w":1890,"v":0.357},{"s":30,"w":1910,"v":0.421},{"s":30,"w":1935,"v":0.454},{"s":30,"w":1970,"v":0.442},{"s":30,"w":2005,"v":0.423},{"s":30,"w":2060,"v":0.449},{"s":30,"w":2140,"v":0.463},{"s":30,"w":2200,"v":0.450},{"s":30,"w":2230,"v":0.440},{"s":30,"w":2270,"v":0.466},{"s":30,"w":2300,"v":0.492},{"s":30,"w":2345,"v":0.510},{"s":30,"w":2400,"v":0.516},{"s":30,"w":2440,"v":0.542},{"s":30,"w":2480,"v":0.591},{"s":30,"w":2500,"v":0.610},
{"s":31,"w":1100,"v":0.207},{"s":31,"w":1130,"v":0.211},{"s":31,"w":1160,"v":0.244},{"s":31,"w":1185,"v":0.268},{"s":31,"w":1210,"v":0.284},{"s":31,"w":1240,"v":0.263},{"s":31,"w":1270,"v":0.245},{"s":31,"w":1310,"v":0.232},{"s":31,"w":1350,"v":0.245},{"s":31,"w":1390,"v":0.284},{"s":31,"w":1420,"v":0.328},{"s":31,"w":1450,"v":0.349},{"s":31,"w":1520,"v":0.347},{"s":31,"w":1620,"v":0.326},{"s":31,"w":1660,"v":0.320},{"s":31,"w":1690,"v":0.343},{"s":31,"w":1720,"v":0.384},{"s":31,"w":1740,"v":0.374},{"s":31,"w":1760,"v":0.381},{"s":31,"w":1790,"v":0.367},{"s":31,"w":1860,"v":0.353},{"s":31,"w":1890,"v":0.371},{"s":31,"w":1910,"v":0.406},{"s":31,"w":1935,"v":0.438},{"s":31,"w":1970,"v":0.427},{"s":31,"w":2005,"v":0.408},{"s":31,"w":2060,"v":0.431},{"s":31,"w":2140,"v":0.444},{"s":31,"w":2200,"v":0.432},{"s":31,"w":2230,"v":0.423},{"s":31,"w":2270,"v":0.448},{"s":31,"w":2300,"v":0.472},{"s":31,"w":2345,"v":0.488},{"s":31,"w":2400,"v":0.495},{"s":31,"w":2440,"v":0.520},{"s":31,"w":2480,"v":0.566},{"s":31,"w":2500,"v":0.584},
{"s":32,"w":1100,"v":0.210},{"s":32,"w":1130,"v":0.214},{"s":32,"w":1160,"v":0.249},{"s":32,"w":1185,"v":0.273},{"s":32,"w":1210,"v":0.290},{"s":32,"w":1240,"v":0.268},{"s":32,"w":1270,"v":0.249},{"s":32,"w":1310,"v":0.236},{"s":32,"w":1350,"v":0.249},{"s":32,"w":1390,"v":0.292},{"s":32,"w":1420,"v":0.339},{"s":32,"w":1450,"v":0.362},{"s":32,"w":1520,"v":0.359},{"s":32,"w":1620,"v":0.337},{"s":32,"w":1660,"v":0.331},{"s":32,"w":1690,"v":0.355},{"s":32,"w":1720,"v":0.397},{"s":32,"w":1740,"v":0.387},{"s":32,"w":1760,"v":0.394},{"s":32,"w":1790,"v":0.380},{"s":32,"w":1860,"v":0.367},{"s":32,"w":1890,"v":0.385},{"s":32,"w":1910,"v":0.452},{"s":32,"w":1935,"v":0.487},{"s":32,"w":1970,"v":0.474},{"s":32,"w":2005,"v":0.454},{"s":32,"w":2060,"v":0.486},{"s":32,"w":2140,"v":0.503},{"s":32,"w":2200,"v":0.487},{"s":32,"w":2230,"v":0.476},{"s":32,"w":2270,"v":0.505},{"s":32,"w":2300,"v":0.536},{"s":32,"w":2345,"v":0.558},{"s":32,"w":2400,"v":0.561},{"s":32,"w":2440,"v":0.590},{"s":32,"w":2480,"v":0.645},{"s":32,"w":2500,"v":0.665},
{"s":33,"w":1100,"v":0.214},{"s":33,"w":1130,"v":0.218},{"s":33,"w":1160,"v":0.254},{"s":33,"w":1185,"v":0.279},{"s":33,"w":1210,"v":0.297},{"s":33,"w":1240,"v":0.274},{"s":33,"w":1270,"v":0.254},{"s":33,"w":1310,"v":0.241},{"s":33,"w":1350,"v":0.255},{"s":33,"w":1390,"v":0.301},{"s":33,"w":1420,"v":0.350},{"s":33,"w":1450,"v":0.375},{"s":33,"w":1520,"v":0.372},{"s":33,"w":1620,"v":0.348},{"s":33,"w":1660,"v":0.341},{"s":33,"w":1690,"v":0.367},{"s":33,"w":1720,"v":0.410},{"s":33,"w":1740,"v":0.400},{"s":33,"w":1760,"v":0.407},{"s":33,"w":1790,"v":0.393},{"s":33,"w":1860,"v":0.380},{"s":33,"w":1890,"v":0.399},{"s":33,"w":1910,"v":0.439},{"s":33,"w":1935,"v":0.474},{"s":33,"w":1970,"v":0.461},{"s":33,"w":2005,"v":0.442},{"s":33,"w":2060,"v":0.471},{"s":33,"w":2140,"v":0.487},{"s":33,"w":2200,"v":0.472},{"s":33,"w":2230,"v":0.462},{"s":33,"w":2270,"v":0.489},{"s":33,"w":2300,"v":0.519},{"s":33,"w":2345,"v":0.539},{"s":33,"w":2400,"v":0.543},{"s":33,"w":2440,"v":0.571},{"s":33,"w":2480,"v":0.623},{"s":33,"w":2500,"v":0.643},
{"s":34,"w":1100,"v":0.218},{"s":34,"w":1130,"v":0.222},{"s":34,"w":1160,"v":0.258},{"s":34,"w":1185,"v":0.285},{"s":34,"w":1210,"v":0.304},{"s":34,"w":1240,"v":0.280},{"s":34,"w":1270,"v":0.260},{"s":34,"w":1310,"v":0.246},{"s":34,"w":1350,"v":0.260},{"s":34,"w":1390,"v":0.306},{"s":34,"w":1420,"v":0.356},{"s":34,"w":1450,"v":0.381},{"s":34,"w":1520,"v":0.378},{"s":34,"w":1620,"v":0.354},{"s":34,"w":1660,"v":0.347},{"s":34,"w":1690,"v":0.373},{"s":34,"w":1720,"v":0.417},{"s":34,"w":1740,"v":0.406},{"s":34,"w":1760,"v":0.414},{"s":34,"w":1790,"v":0.399},{"s":34,"w":1860,"v":0.386},{"s":34,"w":1890,"v":0.406},{"s":34,"w":1910,"v":0.476},{"s":34,"w":1935,"v":0.514},{"s":34,"w":1970,"v":0.500},{"s":34,"w":2005,"v":0.479},{"s":34,"w":2060,"v":0.516},{"s":34,"w":2140,"v":0.534},{"s":34,"w":2200,"v":0.517},{"s":34,"w":2230,"v":0.505},{"s":34,"w":2270,"v":0.536},{"s":34,"w":2300,"v":0.571},{"s":34,"w":2345,"v":0.596},{"s":34,"w":2400,"v":0.597},{"s":34,"w":2440,"v":0.628},{"s":34,"w":2480,"v":0.688},{"s":34,"w":2500,"v":0.709},
{"s":35,"w":1100,"v":0.222},{"s":35,"w":1130,"v":0.226},{"s":35,"w":1160,"v":0.264},{"s":35,"w":1185,"v":0.292},{"s":35,"w":1210,"v":0.312},{"s":35,"w":1240,"v":0.287},{"s":35,"w":1270,"v":0.266},{"s":35,"w":1310,"v":0.251},{"s":35,"w":1350,"v":0.267},{"s":35,"w":1390,"v":0.314},{"s":35,"w":1420,"v":0.368},{"s":35,"w":1450,"v":0.394},{"s":35,"w":1520,"v":0.390},{"s":35,"w":1620,"v":0.366},{"s":35,"w":1660,"v":0.358},{"s":35,"w":1690,"v":0.385},{"s":35,"w":1720,"v":0.430},{"s":35,"w":1740,"v":0.419},{"s":35,"w":1760,"v":0.426},{"s":35,"w":1790,"v":0.412},{"s":35,"w":1860,"v":0.399},{"s":35,"w":1890,"v":0.420},{"s":35,"w":1910,"v":0.468},{"s":35,"w":1935,"v":0.505},{"s":35,"w":1970,"v":0.491},{"s":35,"w":2005,"v":0.471},{"s":35,"w":2060,"v":0.506},{"s":35,"w":2140,"v":0.524},{"s":35,"w":2200,"v":0.507},{"s":35,"w":2230,"v":0.495},{"s":35,"w":2270,"v":0.526},{"s":35,"w":2300,"v":0.559},{"s":35,"w":2345,"v":0.584},{"s":35,"w":2400,"v":0.585},{"s":35,"w":2440,"v":0.616},{"s":35,"w":2480,"v":0.674},{"s":35,"w":2500,"v":0.695},
{"s":36,"w":1100,"v":0.226},{"s":36,"w":1130,"v":0.230},{"s":36,"w":1160,"v":0.270},{"s":36,"w":1185,"v":0.299},{"s":36,"w":1210,"v":0.320},{"s":36,"w":1240,"v":0.294},{"s":36,"w":1270,"v":0.272},{"s":36,"w":1310,"v":0.257},{"s":36,"w":1350,"v":0.273},{"s":36,"w":1390,"v":0.319},{"s":36,"w":1420,"v":0.373},{"s":36,"w":1450,"v":0.400},{"s":36,"w":1520,"v":0.397},{"s":36,"w":1620,"v":0.371},{"s":36,"w":1660,"v":0.363},{"s":36,"w":1690,"v":0.391},{"s":36,"w":1720,"v":0.437},{"s":36,"w":1740,"v":0.425},{"s":36,"w":1760,"v":0.433},{"s":36,"w":1790,"v":0.418},{"s":36,"w":1860,"v":0.406},{"s":36,"w":1890,"v":0.427},{"s":36,"w":1910,"v":0.503},{"s":36,"w":1935,"v":0.543},{"s":36,"w":1970,"v":0.528},{"s":36,"w":2005,"v":0.506},{"s":36,"w":2060,"v":0.548},{"s":36,"w":2140,"v":0.569},{"s":36,"w":2200,"v":0.550},{"s":36,"w":2230,"v":0.536},{"s":36,"w":2270,"v":0.570},{"s":36,"w":2300,"v":0.609},{"s":36,"w":2345,"v":0.638},{"s":36,"w":2400,"v":0.637},{"s":36,"w":2440,"v":0.670},{"s":36,"w":2480,"v":0.735},{"s":36,"w":2500,"v":0.758},
{"s":37,"w":1100,"v":0.230},{"s":37,"w":1130,"v":0.234},{"s":37,"w":1160,"v":0.275},{"s":37,"w":1185,"v":0.305},{"s":37,"w":1210,"v":0.327},{"s":37,"w":1240,"v":0.299},{"s":37,"w":1270,"v":0.277},{"s":37,"w":1310,"v":0.262},{"s":37,"w":1350,"v":0.278},{"s":37,"w":1390,"v":0.328},{"s":37,"w":1420,"v":0.385},{"s":37,"w":1450,"v":0.413},{"s":37,"w":1520,"v":0.409},{"s":37,"w":1620,"v":0.383},{"s":37,"w":1660,"v":0.374},{"s":37,"w":1690,"v":0.403},{"s":37,"w":1720,"v":0.450},{"s":37,"w":1740,"v":0.438},{"s":37,"w":1760,"v":0.446},{"s":37,"w":1790,"v":0.431},{"s":37,"w":1860,"v":0.419},{"s":37,"w":1890,"v":0.441},{"s":37,"w":1910,"v":0.493},{"s":37,"w":1935,"v":0.531},{"s":37,"w":1970,"v":0.517},{"s":37,"w":2005,"v":0.496},{"s":37,"w":2060,"v":0.536},{"s":37,"w":2140,"v":0.556},{"s":37,"w":2200,"v":0.537},{"s":37,"w":2230,"v":0.524},{"s":37,"w":2270,"v":0.557},{"s":37,"w":2300,"v":0.594},{"s":37,"w":2345,"v":0.622},{"s":37,"w":2400,"v":0.621},{"s":37,"w":2440,"v":0.654},{"s":37,"w":2480,"v":0.717},{"s":37,"w":2500,"v":0.739},
{"s":38,"w":1100,"v":0.234},{"s":38,"w":1130,"v":0.238},{"s":38,"w":1160,"v":0.279},{"s":38,"w":1185,"v":0.311},{"s":38,"w":1210,"v":0.334},{"s":38,"w":1240,"v":0.305},{"s":38,"w":1270,"v":0.282},{"s":38,"w":1310,"v":0.267},{"s":38,"w":1350,"v":0.284},{"s":38,"w":1390,"v":0.336},{"s":38,"w":1420,"v":0.396},{"s":38,"w":1450,"v":0.425},{"s":38,"w":1520,"v":0.422},{"s":38,"w":1620,"v":0.394},{"s":38,"w":1660,"v":0.385},{"s":38,"w":1690,"v":0.415},{"s":38,"w":1720,"v":0.464},{"s":38,"w":1740,"v":0.451},{"s":38,"w":1760,"v":0.459},{"s":38,"w":1790,"v":0.443},{"s":38,"w":1860,"v":0.432},{"s":38,"w":1890,"v":0.455},{"s":38,"w":1910,"v":0.530},{"s":38,"w":1935,"v":0.571},{"s":38,"w":1970,"v":0.556},{"s":38,"w":2005,"v":0.533},{"s":38,"w":2060,"v":0.580},{"s":38,"w":2140,"v":0.603},{"s":38,"w":2200,"v":0.582},{"s":38,"w":2230,"v":0.567},{"s":38,"w":2270,"v":0.604},{"s":38,"w":2300,"v":0.647},{"s":38,"w":2345,"v":0.680},{"s":38,"w":2400,"v":0.676},{"s":38,"w":2440,"v":0.712},{"s":38,"w":2480,"v":0.782},{"s":38,"w":2500,"v":0.806},
{"s":39,"w":1100,"v":0.216},{"s":39,"w":1130,"v":0.220},{"s":39,"w":1160,"v":0.257},{"s":39,"w":1185,"v":0.284},{"s":39,"w":1210,"v":0.302},{"s":39,"w":1240,"v":0.278},{"s":39,"w":1270,"v":0.258},{"s":39,"w":1310,"v":0.244},{"s":39,"w":1350,"v":0.259},{"s":39,"w":1390,"v":0.344},{"s":39,"w":1420,"v":0.406},{"s":39,"w":1450,"v":0.436},{"s":39,"w":1520,"v":0.432},{"s":39,"w":1620,"v":0.404},{"s":39,"w":1660,"v":0.394},{"s":39,"w":1690,"v":0.425},{"s":39,"w":1720,"v":0.475},{"s":39,"w":1740,"v":0.462},{"s":39,"w":1760,"v":0.470},{"s":39,"w":1790,"v":0.454},{"s":39,"w":1860,"v":0.444},{"s":39,"w":1890,"v":0.468},{"s":39,"w":1910,"v":0.518},{"s":39,"w":1935,"v":0.558},{"s":39,"w":1970,"v":0.543},{"s":39,"w":2005,"v":0.521},{"s":39,"w":2060,"v":0.565},{"s":39,"w":2140,"v":0.587},{"s":39,"w":2200,"v":0.567},{"s":39,"w":2230,"v":0.553},{"s":39,"w":2270,"v":0.588},{"s":39,"w":2300,"v":0.629},{"s":39,"w":2345,"v":0.660},{"s":39,"w":2400,"v":0.658},{"s":39,"w":2440,"v":0.692},{"s":39,"w":2480,"v":0.760},{"s":39,"w":2500,"v":0.783}
]},
"layer":[
{"mark":{"type":"line","color":"#000000","strokeWidth":1,"interpolate":"catmull-rom","clip":true},
 "encoding":{
  "x":{"field":"w","type":"quantitative","scale":{"domain":[1090,2481],"nice":false,"zero":false},
   "axis":{"orient":"bottom","values":[1200,1400,1600,1800,2000,2200,2400],"format":"d","grid":true,"labelPadding":11,
    "title":"Comprimentos de onda (nm)","titleFont":"DejaVu Sans","titleFontWeight":"bold","titleFontSize":23,"titleX":348,"titleY":47,"titleAlign":"center","titleBaseline":"alphabetic"}},
  "y":{"field":"v","type":"quantitative","scale":{"domain":[0,1.4],"nice":false,"zero":false},
   "axis":{"orient":"left","values":[0,0.2,0.4,0.6,0.8,1,1.2,1.4],"format":"~g","grid":true,"labelPadding":14,
    "title":"Log(1/R)","titleFont":"Liberation Sans","titleFontWeight":"bold","titleFontSize":22,"titleAngle":-90,"titleX":-77,"titleY":219,"titleAlign":"center","titleBaseline":"middle"}},
  "detail":{"field":"s","type":"nominal"}
 }},
{"mark":{"type":"line","opacity":0,"clip":true},
 "encoding":{
  "x":{"field":"w","type":"quantitative","scale":{"domain":[1090,2481],"nice":false,"zero":false},
   "axis":{"orient":"top","values":[1200,1400,1600,1800,2000,2200,2400],"labels":false,"grid":false,"title":null}},
  "y":{"field":"v","type":"quantitative","axis":null},
  "detail":{"field":"s","type":"nominal"}
 }}
],
"resolve":{"axis":{"x":"independent","y":"independent"}}
}
